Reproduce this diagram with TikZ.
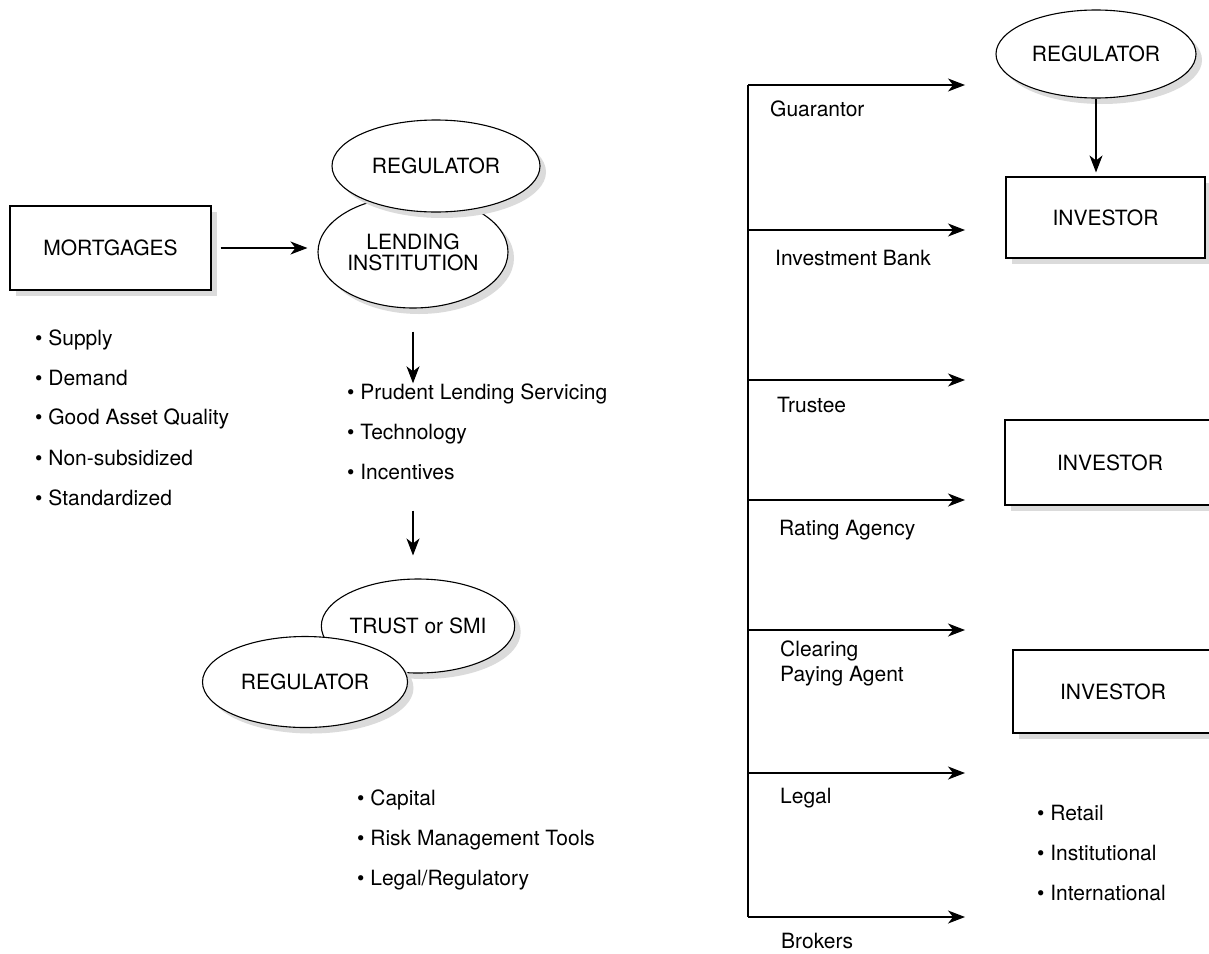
\documentclass[tikz,border=0pt]{standalone}
\usepackage{fontspec}
\setmainfont{TeX Gyre Heros}
\usetikzlibrary{arrows.meta,shapes.geometric,shadows}
\begin{document}
\begin{tikzpicture}[x=1pt,y=-1pt,
  every node/.style={font=\fontsize{21}{25}\selectfont},
  sh/.style={drop shadow={shadow xshift=6pt,shadow yshift=-6pt,fill=gray!28,opacity=1}},
  ell/.style={ellipse,draw,fill=white,line width=1.1pt,inner sep=0pt,sh},
  box/.style={rectangle,draw,fill=white,line width=1.1pt,inner sep=0pt,sh},
  arr/.style={line width=1.1pt,-{Stealth[length=17pt,width=13pt,inset=5pt]}},
  lbl/.style={anchor=west,inner sep=0pt,text height=15pt,text depth=4pt,align=left},
  item/.style={anchor=west,inner sep=0pt,text height=15pt,text depth=4pt}]
\useasboundingbox (0,0) rectangle (1209,953);

% ---- left part ----
\node[box,minimum width=201pt,minimum height=84pt] (mort) at (110.5,248) {MORTGAGES};
\node[ell,minimum width=190pt,minimum height=112pt,align=center] (lend) at (413,252) {LENDING\\[-4pt]INSTITUTION};
\node[ell,minimum width=208pt,minimum height=92pt] (reg1) at (436,166) {REGULATOR};

\node[item] (s1) at (35,340) {\textbullet\ Supply};
\node[item] (s2) at (35,380) {\textbullet\ Demand};
\node[item] (s3) at (35,419) {\textbullet\ Good Asset Quality};
\node[item] (s4) at (35,460) {\textbullet\ Non-subsidized};
\node[item] (s5) at (35,500) {\textbullet\ Standardized};

\node[item] (prud) at (347,394) {\textbullet\ Prudent Lending Servicing};
\node[item] (tech) at (347,434) {\textbullet\ Technology};
\node[item] (inc) at (347,474) {\textbullet\ Incentives};

\node[ell,minimum width=188pt,minimum height=94pt] (trust) at (418,626) {TRUST or SMI};
\node[ell,minimum width=205pt,minimum height=91pt] (reg2) at (305,682) {REGULATOR};

\node[item] (c1) at (357,800) {\textbullet\ Capital};
\node[item] (c2) at (357,840) {\textbullet\ Risk Management Tools};
\node[item] (c3) at (357,880) {\textbullet\ Legal/Regulatory};

\draw[arr,shorten <=9pt,shorten >=10pt] (mort.east) -- (mort.east -| lend.west);
\draw[arr,shorten <=23pt,shorten >=1pt] (lend.south) -- (lend.south |- prud.north);
\draw[arr,shorten <=27pt,shorten >=23pt] (lend.south |- inc.south) -- (lend.south |- trust.north);

% ---- right part ----
\node[ell,minimum width=200pt,minimum height=88pt] (reg3) at (1096,54) {REGULATOR};
\node[box,minimum width=199pt,minimum height=81pt] (inv1) at (1105.5,217.5) {INVESTOR};
\node[box,minimum width=210pt,minimum height=85pt] (inv2) at (1110,462.5) {INVESTOR};
\node[box,minimum width=200pt,minimum height=83pt] (inv3) at (1113,691.5) {INVESTOR};
\draw[arr,shorten >=4pt] (reg3.south) -- (reg3.south |- inv1.north);

\coordinate (top) at (748,85);
\coordinate (bot) at (748,917);
\draw[line width=1.1pt] (top) -- (bot);
\foreach \y/\n in {85/1,230/2,380/3,500/4,630/5,773/6,917/7}{
  \coordinate (b\n) at (748,\y);
  \coordinate (e\n) at (965,\y);
  \draw[arr] (b\n) -- (e\n);
}
\node[lbl] (l1) at (770,111) {Guarantor};
\node[lbl] (l2) at (775,260) {Investment Bank};
\node[lbl] (l3) at (777,407) {Trustee};
\node[lbl] (l4) at (779,530) {Rating Agency};
\node[anchor=north west,inner sep=0pt,align=left] (l5) at (780,641) {Clearing\\Paying Agent};
\node[lbl] (l6) at (780,798) {Legal};
\node[lbl] (l7) at (781,943) {Brokers};

\node[item] (r1) at (1037,815) {\textbullet\ Retail};
\node[item] (r2) at (1037,855) {\textbullet\ Institutional};
\node[item] (r3) at (1037,895) {\textbullet\ International};
\end{tikzpicture}
\end{document}
